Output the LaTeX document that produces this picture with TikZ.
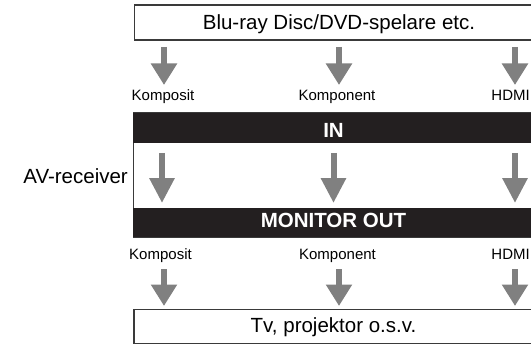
\documentclass[tikz,border=0pt]{standalone}
\usepackage{fontspec}
\setmainfont{Liberation Sans}
\usetikzlibrary{arrows.meta}
\definecolor{arrowgray}{HTML}{808080}
\definecolor{barblack}{HTML}{231F20}
\definecolor{boxline}{HTML}{3A3A3A}
\begin{document}
\begin{tikzpicture}[x=1pt,y=-1pt,
  bigtxt/.style={font=\fontsize{20.5}{24}\selectfont, inner sep=0pt},
  lbl/.style={font=\fontsize{15}{18}\selectfont, inner sep=0pt},
  whitebox/.style={draw=boxline, line width=1.1pt, fill=white, inner sep=0pt,
    font=\fontsize{20.5}{24}\selectfont},
  barbox/.style={fill=barblack, text=white, inner sep=0pt,
    font=\bfseries\fontsize{20.5}{24}\selectfont},
  outerarrow/.style={draw=arrowgray, line width=6pt,
    -{Triangle[width=25pt,length=21.5pt]}},
  innerarrow/.style={draw=arrowgray, line width=6pt,
    -{Triangle[width=24pt,length=25pt]}}]
\useasboundingbox (0,0) rectangle (531,345);
\clip (0,0) rectangle (531,345);

% source box
\node[whitebox, minimum width=409pt, text height=25pt, text depth=10pt]
  (src) at (339,22.5) {Blu-ray Disc/DVD-spelare etc.};

% input labels
\node[lbl, anchor=base] (ik1) at (163,101) {Komposit};
\node[lbl, anchor=base] (ik2) at (337,101) {Komponent};
\node[lbl, anchor=base east] (ik3) at (530,101) {HDMI};

% receiver
\node[draw=boxline, line width=1pt, minimum width=401pt, minimum height=124pt,
  inner sep=0pt] (recv) at (333.5,175) {};
\node[barbox, minimum width=401pt, text height=24.5pt, text depth=5.5pt]
  (inbar) at (333.5,128) {IN};
\node[barbox, minimum width=401pt, text height=19pt, text depth=10pt]
  (outbar) at (333.5,222.5) {MONITOR OUT};
\node[bigtxt, anchor=base east] (av) at (128,183) {AV-receiver};

% output labels
\node[lbl, anchor=base] (ok1) at (160.5,259.5) {Komposit};
\node[lbl, anchor=base] (ok2) at (337.5,259.5) {Komponent};
\node[lbl, anchor=base east] (ok3) at (530,259.5) {HDMI};

% display box
\node[whitebox, minimum width=399pt, text height=22.5pt, text depth=11.5pt]
  (dst) at (333.5,326.5) {Tv, projektor o.s.v.};

% arrow end points
\coordinate (t1s) at (164,47);  \coordinate (t1e) at (164,85);
\coordinate (t2s) at (339,47);  \coordinate (t2e) at (339,85);
\coordinate (t3s) at (515,47);  \coordinate (t3e) at (515,85);
\coordinate (m1s) at (162,153); \coordinate (m1e) at (162,203);
\coordinate (m2s) at (333.5,153); \coordinate (m2e) at (333.5,203);
\coordinate (m3s) at (515,153); \coordinate (m3e) at (515,203);
\coordinate (b1s) at (164,269); \coordinate (b1e) at (164,306);
\coordinate (b2s) at (339,269); \coordinate (b2e) at (339,306);
\coordinate (b3s) at (515,269); \coordinate (b3e) at (515,306);

\draw[outerarrow] (t1s) -- (t1e);
\draw[outerarrow] (t2s) -- (t2e);
\draw[outerarrow] (t3s) -- (t3e);
\draw[innerarrow] (m1s) -- (m1e);
\draw[innerarrow] (m2s) -- (m2e);
\draw[innerarrow] (m3s) -- (m3e);
\draw[outerarrow] (b1s) -- (b1e);
\draw[outerarrow] (b2s) -- (b2e);
\draw[outerarrow] (b3s) -- (b3e);
\end{tikzpicture}
\end{document}
